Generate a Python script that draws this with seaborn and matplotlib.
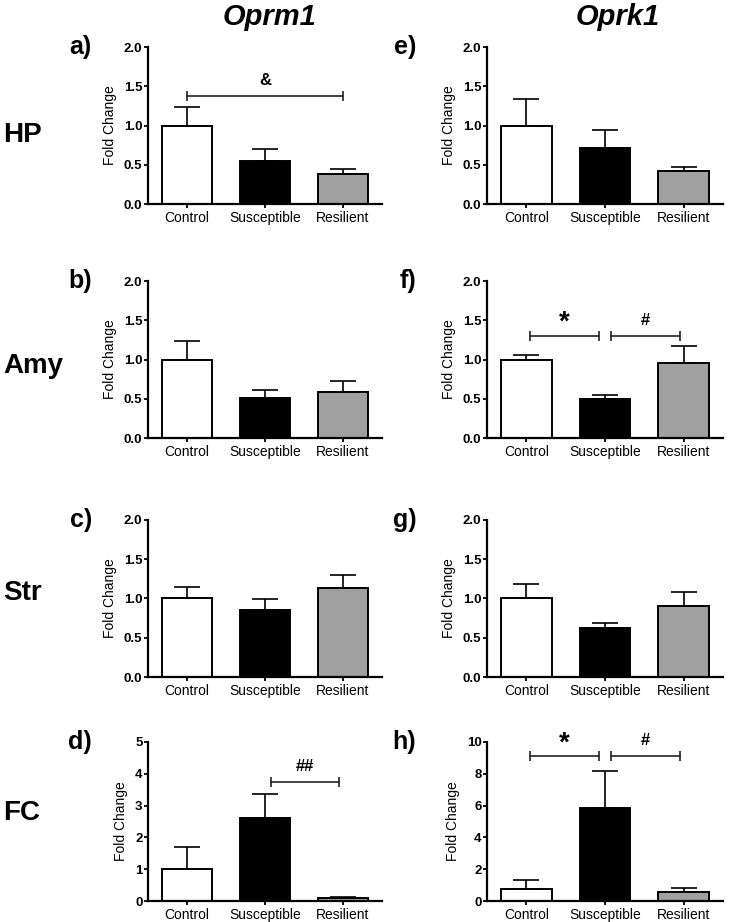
import numpy as np
import pandas as pd
import matplotlib
matplotlib.use("Agg")
import matplotlib.pyplot as plt
import seaborn as sns

sns.set_style("ticks")
plt.rcParams['font.family'] = ['Liberation Sans', 'DejaVu Sans']
for k in ["text.color", "axes.labelcolor", "xtick.color", "ytick.color", "axes.edgecolor"]:
    plt.rcParams[k] = "black"

groups = ["Control", "Susceptible", "Resilient"]
colors = ["#ffffff", "#000000", "#a0a0a0"]
regions = ["HP", "Amy", "Str", "FC"]
genes = ["Oprm1", "Oprk1"]

# means and upper SEM tops
oprm1_mean = [[1.00, 0.55, 0.38],
              [1.00, 0.51, 0.59],
              [1.00, 0.85, 1.13],
              [1.00, 2.60, 0.08]]
oprm1_top = [[1.24, 0.70, 0.44],
             [1.24, 0.61, 0.72],
             [1.15, 0.99, 1.30],
             [1.69, 3.37, 0.14]]
oprk1_mean = [[1.00, 0.71, 0.42],
              [0.99, 0.50, 0.95],
              [1.00, 0.63, 0.90],
              [0.75, 5.82, 0.55]]
oprk1_top = [[1.34, 0.94, 0.47],
             [1.06, 0.55, 1.17],
             [1.19, 0.69, 1.08],
             [1.29, 8.20, 0.80]]

fc_ylim = [5, 10]
fc_ticks = [1, 2]

panel_letters = [["a)", "b)", "c)", "d)"], ["e)", "f)", "g)", "h)"]]

# significance brackets: (gene, row, from, to, height, label)
sig = [(0, 0, 0, 2, 1.38, "&"),
       (1, 1, 0, 1, 1.30, "*"),
       (1, 1, 1, 2, 1.30, "#"),
       (0, 3, 1, 2, 3.75, "##"),
       (1, 3, 0, 1, 9.1, "*"),
       (1, 3, 1, 2, 9.1, "#")]

fig = plt.figure(figsize=(7.3, 9.22), dpi=100)

col_x = [148 / 730, 487 / 730]
col_w = [234 / 730, 236 / 730]
row_top = [47, 281, 520, 742]
row_zero = [204, 438, 677, 901]

axes = {}
for c in range(2):
    means = oprm1_mean if c == 0 else oprk1_mean
    tops = oprm1_top if c == 0 else oprk1_top
    for r in range(4):
        b = 1 - row_zero[r] / 922
        h = (row_zero[r] - row_top[r]) / 922
        ax = fig.add_axes([col_x[c], b, col_w[c], h])
        axes[(c, r)] = ax
        df = pd.DataFrame({"group": groups, "value": means[r]})
        sns.barplot(data=df, x="group", y="value", hue="group", palette=colors,
                    edgecolor="black", linewidth=1.4, width=0.64, legend=False,
                    saturation=1, ax=ax, zorder=2)
        err = np.array(tops[r]) - np.array(means[r])
        ax.errorbar(range(3), means[r], yerr=[np.zeros(3), err], fmt="none",
                    ecolor="black", elinewidth=1.2, capsize=9.5, capthick=1.2, zorder=1)
        ax.set_xlim(-0.5, 2.5)
        if r < 3:
            ax.set_ylim(0, 2.0)
            ax.set_yticks([0, 0.5, 1.0, 1.5, 2.0])
            ax.set_yticklabels(["0.0", "0.5", "1.0", "1.5", "2.0"])
        else:
            ax.set_ylim(0, fc_ylim[c])
            ax.set_yticks(np.arange(0, fc_ylim[c] + 1, fc_ticks[c]))
        ax.set_xlabel("")
        ax.set_ylabel("Fold Change", fontsize=10)
        ax.yaxis.labelpad = 5
        sns.despine(ax=ax)
        for s in ["left", "bottom"]:
            ax.spines[s].set_linewidth(1.6)
        ax.tick_params(axis="y", length=3, width=1.3, labelsize=9.5, pad=1)
        ax.tick_params(axis="x", length=3, width=1.3, labelsize=10, pad=2)
        for t in ax.get_yticklabels():
            t.set_fontweight("bold")
        ax.text(-0.24 if c == 0 else -0.30, 1.0, panel_letters[c][r],
                transform=ax.transAxes, fontsize=18, fontweight="bold",
                ha="right", va="center")

for g, r, i, j, y, lab in sig:
    ax = axes[(g, r)]
    x1 = i + 0.05 if i == 0 else i + 0.08
    x2 = j - 0.08 if j == 1 else j - 0.05
    if i == 0 and j == 2:
        x1, x2 = 0.0, 2.0
    ax.plot([x1, x2], [y, y], color="#222222", lw=1.2, clip_on=False)
    ax.plot([x1, x2], [y, y], ls="none", marker="|", ms=7, mew=1.2,
            color="#222222", clip_on=False)
    fs = 20 if lab == "*" else 12
    va_off = 0.0 if lab == "*" else 0.05
    ylim = ax.get_ylim()[1]
    ax.text((x1 + x2) / 2, y + va_off * ylim, lab, ha="center", va="bottom",
            fontsize=fs, fontweight="bold")

row_label_y = [135, 366, 593, 813]
for r in range(4):
    fig.text(3 / 730, 1 - row_label_y[r] / 922, regions[r], fontsize=20,
             fontweight="bold", ha="left", va="center")

fig.text(270 / 730, 1 - 17 / 922, "Oprm1", fontsize=21, fontweight="bold",
         fontstyle="italic", ha="center", va="center")
fig.text(618 / 730, 1 - 17 / 922, "Oprk1", fontsize=21, fontweight="bold",
         fontstyle="italic", ha="center", va="center")

fig.savefig("out.png", dpi=100)
